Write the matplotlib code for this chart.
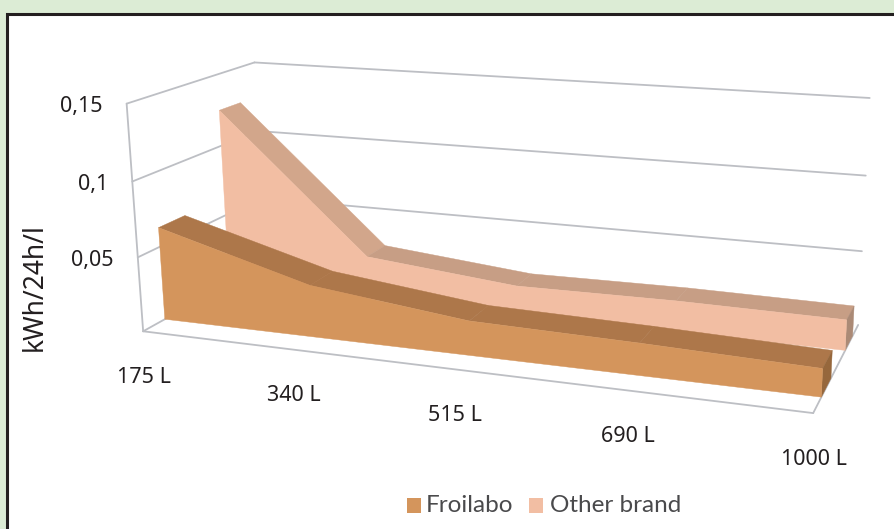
import numpy as np
import matplotlib
matplotlib.use('Agg')
import matplotlib.pyplot as plt
from matplotlib.patches import Rectangle, Polygon

# 图表数据
categories = ['175 L', '340 L', '515 L', '690 L', '1000 L']
froilabo = [0.063, 0.0345, 0.0225, 0.0205, 0.0175]
other_brand = [0.125, 0.030, 0.020, 0.021, 0.020]
y_ticks = [0.05, 0.1, 0.15]
y_tick_labels = ['0,05', '0,1', '0,15']
y_max = 0.15

GRID = '#bdbfc4'
TEXT = '#231f20'

# 立方体角点 (u, d, h) -> 像素，用来拟合透视投影
corners = [
    ((0, 0, 0), (142, 332)), ((0, 0, 1), (128, 103)),
    ((0, 1, 0), (266, 263)), ((0, 1, 1), (253, 63)),
    ((1, 0, 0), (813, 413)), ((1, 1, 0), (858, 325)),
    ((1, 1, 1), (870, 98)),
]
A, b = [], []
for (u, d, h), (px, py) in corners:
    A.append([u, d, h, 1, 0, 0, 0, 0, -px*u, -px*d, -px*h]); b.append(px)
    A.append([0, 0, 0, 0, u, d, h, 1, -py*u, -py*d, -py*h]); b.append(py)
P = np.linalg.lstsq(np.array(A, float), np.array(b, float), rcond=None)[0]


def project(u, d, v):
    h = v / y_max
    w = P[8]*u + P[9]*d + P[10]*h + 1
    return ((P[0]*u + P[1]*d + P[2]*h + P[3]) / w,
            (P[4]*u + P[5]*d + P[6]*h + P[7]) / w)


fig = plt.figure(figsize=(8.95, 5.29), dpi=100, facecolor='#dcecd5')
ax = fig.add_axes([0, 0, 1, 1])
ax.set_xlim(0, 895); ax.set_ylim(529, 0); ax.axis('off')
plt.rcParams['font.family'] = ['Noto Sans', 'DejaVu Sans']

# 白色面板和黑边框
ax.add_patch(Rectangle((7, 13.5), 900, 530, fc='white', ec='#231f20', lw=2.2, zorder=0))


def line(p, q):
    ax.plot([p[0], q[0]], [p[1], q[1]], color=GRID, lw=1.3, zorder=1, solid_capstyle='round')


# 墙面网格线
for v in y_ticks:
    line(project(0, 0, v), project(0, 1, v))
    line(project(0, 1, v), project(1, 1, v))
line(project(0, 0, 0), project(0, 0, y_max))
line(project(0, 0, 0), project(0, 1, 0))
line(project(0, 0, 0), project(1, 0, 0))
line(project(1, 0, 0), project(1, 1, 0))


def draw_series(values, d0, d1, face, tops, side, z):
    us = np.linspace(0, 1, len(values))
    front = [project(u, d0, v) for u, v in zip(us, values)]
    back = [project(u, d1, v) for u, v in zip(us, values)]
    for i in range(len(values) - 1):
        ax.add_patch(Polygon([front[i], front[i+1], back[i+1], back[i]],
                             fc=tops[i], ec=tops[i], lw=0.3, zorder=z))
    ax.add_patch(Polygon([front[-1], back[-1], project(1, d1, 0), project(1, d0, 0)],
                         fc=side, ec=side, lw=0.3, zorder=z))
    ax.add_patch(Polygon(front + [project(1, d0, 0), project(0, d0, 0)],
                         fc=face, ec=face, lw=0.3, zorder=z + 0.5))


draw_series(other_brand, 0.68, 0.86, '#f2bea3',
            ['#d2a68b', '#c79e85', '#c79e85', '#c79e85'], '#ab8a76', 2)
draw_series(froilabo, 0.16, 0.36, '#d4955c',
            ['#ad774a', '#ad774a', '#ad774a', '#ad774a'], '#96673c', 3)

# 刻度文字
for v, s in zip(y_ticks, y_tick_labels):
    x, y = project(0, 0, v)
    ax.text(x - 24, y + 3, s, ha='right', va='center', fontsize=15.5, color=TEXT)
for u, s in zip(np.linspace(0, 1, len(categories)), categories):
    x, y = project(u, 0, 0)
    ax.text(x + 1, y + 46, s, ha='center', va='center', fontsize=15.5, color=TEXT)

ax.text(35, 287, 'kWh/24h/l', rotation=90, ha='center', va='center', fontsize=19, color=TEXT)

# 图例
ax.add_patch(Rectangle((407, 498), 14, 15, fc='#d4955c', ec='none'))
ax.add_patch(Rectangle((529, 498), 14, 15, fc='#f2bea3', ec='none'))
ax.text(426, 505, 'Froilabo', va='center', fontsize=17.5, color='#4a4a4c', family='Lato')
ax.text(550, 505, 'Other brand', va='center', fontsize=17.5, color='#4a4a4c', family='Lato')

fig.savefig('out.png', dpi=100, facecolor=fig.get_facecolor())
